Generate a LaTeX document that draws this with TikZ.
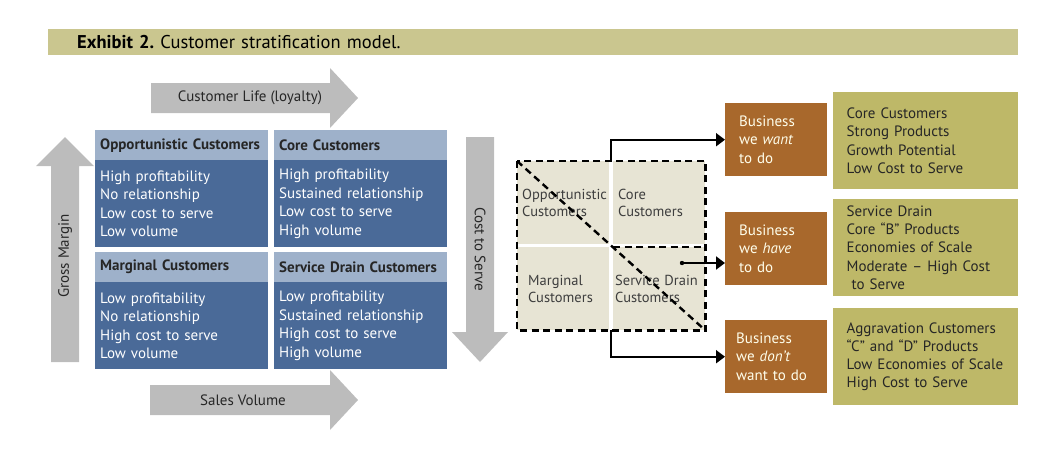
\documentclass[tikz,border=0pt]{standalone}
\usepackage{fontspec}
\setmainfont{PT Sans}
\usetikzlibrary{arrows.meta, positioning}
\definecolor{bandolive}{RGB}{202,198,143}
\definecolor{boxolive}{RGB}{190,184,104}
\definecolor{cellhead}{RGB}{158,177,202}
\definecolor{cellbody}{RGB}{74,106,152}
\definecolor{bizbrown}{RGB}{168,104,44}
\definecolor{gridbeige}{RGB}{231,228,212}
\definecolor{arrowgray}{RGB}{188,188,188}
\definecolor{softtext}{RGB}{62,62,62}

\begin{document}
\begin{tikzpicture}[x=1pt, y=-1pt,
  band/.style={rectangle, fill=bandolive, anchor=north west, inner xsep=29pt,
               text width=912pt, minimum height=26pt, align=left,
               font=\fontsize{18.5}{21}\selectfont},
  head/.style={rectangle, fill=cellhead, anchor=north west, inner xsep=5pt,
               text width=163pt, minimum height=30pt, align=left,
               font=\fontsize{15}{18}\selectfont\bfseries, text=black!85},
  body/.style={rectangle, fill=cellbody, anchor=north west, inner xsep=5pt,
               text width=163pt, minimum height=87pt, align=left,
               font=\fontsize{15}{18.5}\selectfont, text=white},
  cell/.style={rectangle, fill=gridbeige, anchor=north west, inner xsep=5pt,
               text width=82pt, minimum height=83pt, align=left,
               font=\fontsize{14.5}{17}\selectfont, text=softtext},
  biz/.style={rectangle, fill=bizbrown, anchor=north west, inner xsep=14pt,
              text width=74pt, minimum height=73pt, align=left,
              font=\fontsize{15}{18.5}\selectfont, text=white!92!yellow},
  note/.style={rectangle, fill=boxolive, anchor=north west, inner xsep=13.5pt,
               text width=158pt, minimum height=97pt, align=left,
               font=\fontsize{15}{18.3}\selectfont, text=black!85},
  axis/.style={fill=arrowgray},
  axislbl/.style={font=\fontsize{15}{17}\selectfont, text=black!85},
  dashframe/.style={line width=2.4pt, dash pattern=on 7pt off 4.5pt},
  conn/.style={line width=2pt, -{Triangle[length=9pt, width=13pt]}},
]
  \useasboundingbox (0,0) rectangle (1059,464);

  % title
  \node[band] (title) at (48,29) {\textbf{Exhibit 2.}\ Customer stratification model.};

  % axis arrows
  \fill[axis] (151,83) -- (330,83) -- (330,68) -- (358,98) -- (330,128)
              -- (330,113) -- (151,113) -- cycle;
  \node[axislbl] (life) at (250,98) {Customer Life (loyalty)};
  \fill[axis] (150,385) -- (330,385) -- (330,370) -- (358,400) -- (330,430)
              -- (330,415) -- (150,415) -- cycle;
  \node[axislbl] (volume) at (243,400) {Sales Volume};
  \fill[axis] (51,362) -- (51,166) -- (36,166) -- (65,137) -- (94,166)
              -- (79,166) -- (79,362) -- cycle;
  \node[axislbl, rotate=90] (margin) at (65,256) {Gross Margin};
  \fill[axis] (466,137) -- (494,137) -- (494,332) -- (508,332) -- (480,362)
              -- (452,332) -- (466,332) -- cycle;
  \node[axislbl, rotate=-90] (cost) at (480,249) {Cost to Serve};

  % stratification grid
  \node[head] (opph) at (95,130) {Opportunistic Customers};
  \node[body] (oppb) at (95,160) {High profitability\\No relationship\\Low cost to serve\\Low volume};
  \node[head] (coreh) at (274,130) {Core Customers};
  \node[body] (coreb) at (274,160) {High profitability\\Sustained relationship\\Low cost to serve\\High volume};
  \node[head] (margh) at (95,252) {Marginal Customers};
  \node[body] (margb) at (95,282) {Low profitability\\No relationship\\High cost to serve\\Low volume};
  \node[head] (drainh) at (274,252) {Service Drain Customers};
  \node[body] (drainb) at (274,282) {Low profitability\\Sustained relationship\\High cost to serve\\High volume};

  % small grid
  \node[cell] (gopp) at (517,161) {Opportunistic\\Customers};
  \node[cell] (gcore) at (613,161) {Core\\Customers};
  \node[cell] (gmarg) at (517,247) {\hspace*{6pt}Marginal\\\hspace*{6pt}Customers};
  \node[cell, inner xsep=2pt, text width=88pt] (gdrain) at (613,247) {Service Drain\\Customers};

  \draw[dashframe] (gopp.north west) rectangle (gdrain.south east);
  \draw[dashframe] (gdrain.north west) -- (gdrain.north east);
  \draw[dashframe] (gopp.north west) -- (gdrain.south east);

  % business boxes
  \node[biz] (want) at (725,103) {Business\\we \textit{want}\\to do};
  \node[biz] (have) at (725,212) {Business\\we \textit{have}\\to do};
  \node[biz, inner xsep=11pt, text width=80pt] (dont) at (725,320) {Business\\we \textit{don’t}\\want to do};

  \node[note] (wantnote) at (833,92) {Core Customers\\Strong Products\\Growth Potential\\Low Cost to Serve};
  \node[note] (havenote) at (833,199) {Service Drain\\Core “B” Products\\Economies of Scale\\Moderate – High Cost\\\hspace*{5pt}to Serve};
  \node[note] (dontnote) at (833,308) {Aggravation Customers\\“C” and “D” Products\\Low Economies of Scale\\High Cost to Serve};

  % connectors
  \coordinate (gtop) at (gopp.north east);
  \coordinate (gbot) at (gmarg.south east);
  \coordinate (hdot) at (682,263);
  \draw[conn] ([xshift=2pt]gtop) |- (want.west);
  \fill (hdot) circle (2.2pt);
  \draw[conn] (hdot) -- (hdot -| have.west);
  \draw[conn] ([xshift=2pt]gbot) |- (dont.west);
\end{tikzpicture}
\end{document}
